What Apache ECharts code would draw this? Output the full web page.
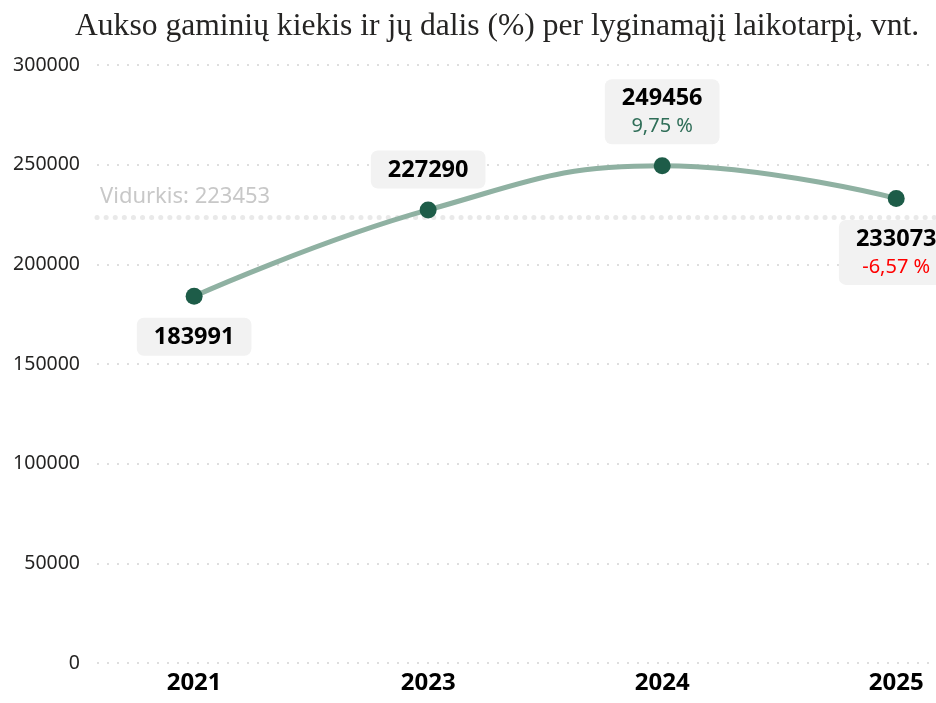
<!DOCTYPE html>
<html>
<head>
<meta charset="utf-8">
<script src="https://cdn.jsdelivr.net/npm/echarts@6/dist/echarts.min.js"></script>
<style>
  html, body { margin: 0; padding: 0; background: #fff; }
  #main { width: 936px; height: 703px; }
</style>
</head>
<body>
<div id="main"></div>
<script>
// duomenys
var years = ['2021', '2023', '2024', '2025'];
var values = [183991, 227290, 249456, 233073];
var changes = ['', '', '9,75 %', '-6,57 %'];
var average = 223453;
var yTicks = [0, 50000, 100000, 150000, 200000, 250000, 300000];

var myChart = echarts.init(document.getElementById('main'));

var labelPos = ['bottom', 'top', 'top', 'bottom'];

var points = values.map(function (v, i) {
  var up = changes[i].indexOf('-') !== 0;
  return {
    value: [i, v],
    label: {
      show: true,
      position: labelPos[i],
      distance: 13,
      formatter: changes[i] ? '{v|' + v + '}\n{' + (up ? 'g' : 'r') + '|' + changes[i] + '}' : '{v|' + v + '}'
    }
  };
});

var option = {
  animation: false,
  title: {
    text: 'Aukso gaminių kiekis ir jų dalis (%) per lyginamąjį laikotarpį, vnt.',
    left: 70,
    top: 6,
    textStyle: {
      fontFamily: 'Liberation Serif',
      fontWeight: 'normal',
      fontSize: 31.6,
      color: '#252423'
    }
  },
  grid: { left: 97, right: 0, top: 65, bottom: 40 },
  xAxis: {
    type: 'value',
    min: -0.415,
    max: 3.17,
    axisLine: { show: false },
    axisTick: { show: false },
    splitLine: { show: false },
    axisLabel: {
      customValues: [0, 1, 2, 3],
      formatter: function (v) { return years[Math.round(v)]; },
      fontFamily: 'Noto Sans',
      fontWeight: 'bold',
      fontSize: 24,
      color: '#000',
      margin: 8
    }
  },
  yAxis: {
    type: 'value',
    min: 0,
    max: 300000,
    interval: 50000,
    axisLine: { show: false },
    axisTick: { show: false },
    axisLabel: {
      customValues: yTicks,
      formatter: function (v) { return String(v); },
      fontFamily: 'Noto Sans',
      fontSize: 19.5,
      color: '#252423',
      margin: 17
    },
    splitLine: { lineStyle: { color: '#dedede', type: [2, 8], width: 2 } }
  },
  series: [{
    type: 'line',
    z: 1,
    data: [],
    markLine: {
      silent: true,
      z: 1,
      symbol: 'none',
      data: [{ yAxis: average }],
      lineStyle: { color: '#e9e9e9', type: [0.1, 9], width: 5, cap: 'round' },
      label: {
        position: 'insideStartTop',
        formatter: 'Vidurkis: ' + average,
        fontFamily: 'Noto Sans',
        fontSize: 22,
        color: '#c8c8c8',
        distance: [3, 10]
      }
    }
  }, {
    type: 'line',
    z: 3,
    smooth: 0.45,
    data: points,
    symbol: 'circle',
    symbolSize: 17,
    lineStyle: { color: '#8fb1a2', width: 5 },
    itemStyle: { color: '#1d5c48' },
    label: {
      backgroundColor: '#f2f2f2',
      borderRadius: 7,
      padding: [5, 17, 4, 17],
      align: 'center',
      rich: {
        v: { fontFamily: 'Noto Sans', fontWeight: 'bold', fontSize: 23.5, color: '#000', lineHeight: 29 },
        g: { fontFamily: 'Noto Sans', fontSize: 20, color: '#2f6e58', lineHeight: 27 },
        r: { fontFamily: 'Noto Sans', fontSize: 20, color: '#ff0000', lineHeight: 27 }
      }
    }
  }]
};

myChart.setOption(option, true);
</script>
</body>
</html>
